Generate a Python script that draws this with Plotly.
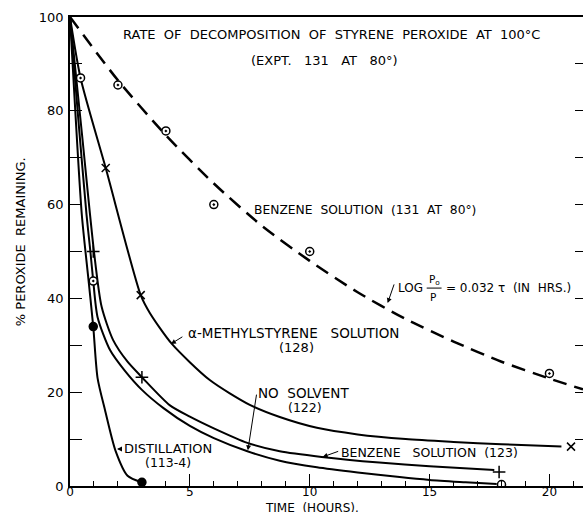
import plotly.graph_objects as go

# ---------------- data ----------------
# Benzene solution (131 at 80°) - dashed fitted curve and its observed points
fit_t = [0, 2, 4, 6, 8, 10, 12, 14, 16, 18, 20, 21.4]
fit_y = [100, 86.5, 74.8, 64.5, 55.5, 48, 41.3, 35.6, 30.8, 26.5, 22.9, 20.6]
b131_t = [2, 4, 6, 10, 20]
b131_y = [85.5, 75.7, 60, 50, 24]

# alpha-methylstyrene solution (128)
ams_t = [0, 0.44, 1.49, 2.95, 3.33, 4.25, 5.83, 7.5, 8.75, 10.3, 12, 14, 16, 18, 20.5]
ams_y = [100, 87, 67.8, 40.7, 36.9, 30.3, 22.6, 17.3, 14.7, 12.4, 11, 10, 9.4, 8.9, 8.4]
ams_mark_t = [1.49, 2.95, 20.9]
ams_mark_y = [67.8, 40.7, 8.4]
ams_circ_t = [0.44]
ams_circ_y = [87]

# Benzene solution (123)  (+ points)
b123_t = [0, 0.5, 1.0, 1.32, 1.8, 2.4, 3.0, 4.17, 5, 6, 7.4, 8.75, 10.5, 12.9, 15, 17.7]
b123_y = [100, 75, 50, 38.2, 31.1, 26.5, 23.2, 17.2, 14.8, 12.3, 9.2, 7.4, 6.2, 5.0, 4.2, 3.4]
b123_mark_t = [0.97, 3.0, 17.9]
b123_mark_y = [50, 23.2, 3.0]

# No solvent (122)  (o points)
ns_t = [0, 0.35, 0.69, 0.85, 0.97, 1.15, 1.67, 2.3, 3.0, 3.9, 5, 6, 7.4, 8.75, 10.3, 12, 13.75, 15, 16.5, 17.8]
ns_y = [100, 78, 57.8, 50, 43.7, 36, 29, 24.5, 20.5, 16.6, 12.8, 10.2, 7.4, 5.4, 4.0, 2.9, 1.9, 1.3, 0.8, 0.4]
ns_dot_t = [0.97]
ns_dot_y = [43.7]
ns_end_t = [18]
ns_end_y = [0.3]

# Distillation (113-4)  (filled points)
dist_t = [0, 0.49, 0.75, 0.97, 1.15, 1.46, 1.9, 2.4, 3.0]
dist_y = [100, 58, 45, 34, 23, 16.2, 7.5, 2.2, 0.8]
dist_mark_t = [0.97, 3.0]
dist_mark_y = [34, 0.8]

x_ticks = [0, 5, 10, 15, 20]
y_ticks = [0, 20, 40, 60, 80, 100]

# ---------------- figure ----------------
FONT = "DejaVu Sans"
NB = "\u00a0"
fig = go.Figure()

def line(t, y, dash=None, width=2):
    fig.add_trace(go.Scatter(x=t, y=y, mode="lines",
                             line=dict(color="black", width=width, dash=dash,
                                       shape="spline", smoothing=0.7),
                             hoverinfo="skip", showlegend=False))

def marks(t, y, symbol, size=9, fill="white", lw=1.5):
    fig.add_trace(go.Scatter(x=t, y=y, mode="markers",
                             marker=dict(symbol=symbol, size=size, color=fill,
                                         line=dict(color="black", width=lw)),
                             hoverinfo="skip", showlegend=False))

line(fit_t, fit_y, dash="14px,8px", width=2.5)
line(ams_t, ams_y)
line(b123_t, b123_y)
line(ns_t, ns_y)
line(dist_t, dist_y)

marks(b131_t, b131_y, "circle-dot", size=8)
marks(ams_circ_t, ams_circ_y, "circle-dot", size=8)
marks(ams_mark_t, ams_mark_y, "x-thin-open", size=8, fill="black")
marks(b123_mark_t, b123_mark_y, "cross-thin-open", size=9, fill="black")
marks(ns_dot_t, ns_dot_y, "circle-dot", size=8)
marks(ns_end_t, ns_end_y, "circle", size=8)
marks(dist_mark_t, dist_mark_y, "circle", size=8, fill="black")

# right-hand tick marks (no line) on an overlaying axis
fig.add_trace(go.Scatter(x=[None], y=[None], yaxis="y2", showlegend=False))

def txt(x, y, s, size=13, xanchor="center"):
    fig.add_annotation(x=x, y=y, text=s, showarrow=False, xanchor=xanchor,
                       yanchor="middle", font=dict(family=FONT, size=size, color="black"))

def arrow(x, y, ax, ay):
    fig.add_annotation(x=x, y=y, ax=ax, ay=ay, axref="x", ayref="y", text="",
                       showarrow=True, arrowhead=2, arrowsize=1, arrowwidth=1,
                       arrowcolor="black")

sp = NB * 2
txt(10.9, 96.2, sp.join(["RATE", "OF", "DECOMPOSITION", "OF", "STYRENE", "PEROXIDE", "AT", "100°C"]), size=13)
txt(10.6, 90.8, "(EXPT." + NB * 3 + "131" + NB * 3 + "AT" + NB * 3 + "80°)", size=13)
txt(12.3, 58.8, sp.join(["BENZENE", "SOLUTION", "(131", "AT", "80°)"]), size=12.3)
# LOG P0/P = 0.032 τ (IN HRS.)
txt(13.6, 42.2, "LOG", size=12, xanchor="left")
txt(15.2, 44.0, "P<sub>o</sub>", size=10.5)
txt(15.15, 40.3, "P", size=10.5)
fig.add_shape(type="line", x0=14.88, x1=15.5, y0=42.2, y1=42.2, line=dict(color="black", width=1))
txt(15.6, 42.2, "=" + NB + "0.032" + NB + "τ" + sp + "(IN" + sp + "HRS.)", size=12, xanchor="left")
arrow(13.25, 39.0, 13.54, 43.3)

txt(9.33, 32.6, "α-METHYLSTYRENE" + NB * 3 + "SOLUTION", size=13.5)
txt(9.46, 29.6, "(128)", size=13)
arrow(4.21, 30.3, 4.75, 32.0)

txt(9.75, 19.8, "NO" + sp + "SOLVENT", size=13.5)
txt(9.8, 16.8, "(122)", size=12.5)
arrow(7.42, 7.6, 7.79, 19.8)

txt(15.0, 7.2, "BENZENE" + NB * 3 + "SOLUTION" + sp + "(123)", size=12.5)
arrow(10.54, 6.2, 11.25, 7.5)

txt(4.08, 7.9, "DISTILLATION", size=13)
txt(4.08, 5.1, "(113-4)", size=12.5)
arrow(1.96, 7.9, 2.15, 7.9)

# axis titles
fig.add_annotation(xref="paper", yref="paper", x=-0.0975, y=0.522,
                   xanchor="center", yanchor="middle",
                   text="%" + NB + "PEROXIDE" + sp + "REMAINING.",
                   textangle=-90, showarrow=False, font=dict(family=FONT, size=13, color="black"))
fig.add_annotation(xref="paper", yref="paper", x=0.472, y=-0.047,
                   xanchor="center", yanchor="middle", text="TIME" + sp + "(HOURS).",
                   showarrow=False, font=dict(family=FONT, size=12, color="black"))

fig.update_layout(
    width=587, height=512,
    margin=dict(l=70, r=4, t=17, b=26, autoexpand=False),
    paper_bgcolor="white", plot_bgcolor="white",
    font=dict(family=FONT, size=13, color="black"),
    xaxis=dict(range=[0, 21.4], tickvals=x_ticks, ticktext=[str(v) for v in x_ticks],
               ticks="inside", ticklen=12, tickwidth=1, tickcolor="black",
               minor=dict(dtick=1, ticks="inside", ticklen=5, tickcolor="black"),
               showline=True, linecolor="black", linewidth=1.5, mirror=True,
               showgrid=False, zeroline=False, tickfont=dict(size=12),
               ticklabelstandoff=-6, ticklabeloverflow="allow", automargin=False),
    yaxis=dict(range=[0, 100], tickvals=y_ticks, ticktext=[str(v) for v in y_ticks],
               ticks="inside", ticklen=12, tickwidth=1, tickcolor="black",
               minor=dict(dtick=10, ticks="inside", ticklen=12, tickcolor="black"),
               showline=True, linecolor="black", linewidth=1.5,
               showgrid=False, zeroline=False, tickfont=dict(size=13),
               ticklabelstandoff=2, automargin=False),
    yaxis2=dict(range=[0, 100], overlaying="y", side="right", dtick=10,
                ticks="inside", ticklen=8, tickcolor="black", showticklabels=False,
                showline=False, showgrid=False, zeroline=False, automargin=False),
)

fig.write_html("out.html", config={"displayModeBar": False},
               post_script="document.body.style.margin='0';document.body.style.overflow='hidden';")
